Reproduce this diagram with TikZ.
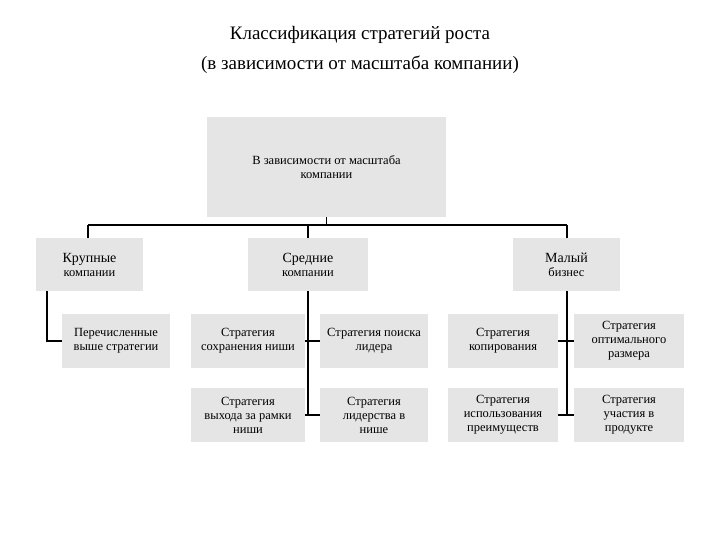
\documentclass[tikz,border=0pt]{standalone}
\usepackage{fontspec}
\setmainfont{Liberation Serif}
\begin{document}
\begin{tikzpicture}[x=1pt,y=-1pt,
  bx/.style={fill=black!10,draw=none,align=center,inner sep=0pt,font=\fontsize{12.5}{14}\selectfont},
  ln/.style={line width=1.6pt}]
\useasboundingbox (0,0) rectangle (720,540);
\node[align=center,font=\fontsize{19}{30}\selectfont] (title) at (360,50) {Классификация стратегий роста\\(в зависимости от масштаба компании)};
\node[bx,minimum width=239,minimum height=100] (top) at (326.5,167) {В зависимости от масштаба\\компании};
\node[bx,minimum width=107,minimum height=53] (big) at (89.5,264.5) {\fontsize{14}{16}\selectfont Крупные\\компании};
\node[bx,minimum width=120,minimum height=53] (mid) at (308,264.5) {\fontsize{14}{16}\selectfont Средние\\компании};
\node[bx,minimum width=107,minimum height=53] (small) at (566.5,264.5) {\fontsize{14}{16}\selectfont Малый\\бизнес};
\node[bx,minimum width=108,minimum height=54] (b1) at (116,341) {Перечисленные\\выше стратегии};
\node[bx,minimum width=114,minimum height=54] (m1) at (248,341) {Стратегия\\сохранения ниши};
\node[bx,minimum width=108,minimum height=54] (m2) at (374,341) {Стратегия поиска\\лидера};
\node[bx,minimum width=114,minimum height=54] (m3) at (248,415) {Стратегия\\выхода за рамки\\ниши};
\node[bx,minimum width=108,minimum height=54] (m4) at (374,415) {Стратегия\\лидерства в\\нише};
\node[bx,minimum width=110,minimum height=54] (s1) at (503,341) {Стратегия\\копирования};
\node[bx,minimum width=110,minimum height=54] (s2) at (629,341) {Стратегия\\оптимального\\размера};
\node[bx,minimum width=110,minimum height=54] (s3) at (503,415) {Стратегия\\использования\\преимуществ};
\node[bx,minimum width=110,minimum height=54] (s4) at (629,415) {Стратегия\\участия в\\продукте};
\coordinate (hub) at (326.5,225);
\draw[ln] (top.south) -- (hub);
\draw[ln] (88,225) -- (567,225);
\draw[ln] (88,225) -- (big.north -| 88,0);
\draw[ln] (308,225) -- (mid.north);
\draw[ln] (567,225) -- (small.north -| 567,0);
\draw[ln] (47,291) |- (b1.west);
\draw[ln] (mid.south) -- (308,415);
\draw[ln] (m1.east) -- (m2.west);
\draw[ln] (m3.east) -- (m4.west);
\draw[ln] (small.south -| 567,0) -- (567,415);
\draw[ln] (s1.east) -- (s2.west);
\draw[ln] (s3.east) -- (s4.west);
\end{tikzpicture}
\end{document}
